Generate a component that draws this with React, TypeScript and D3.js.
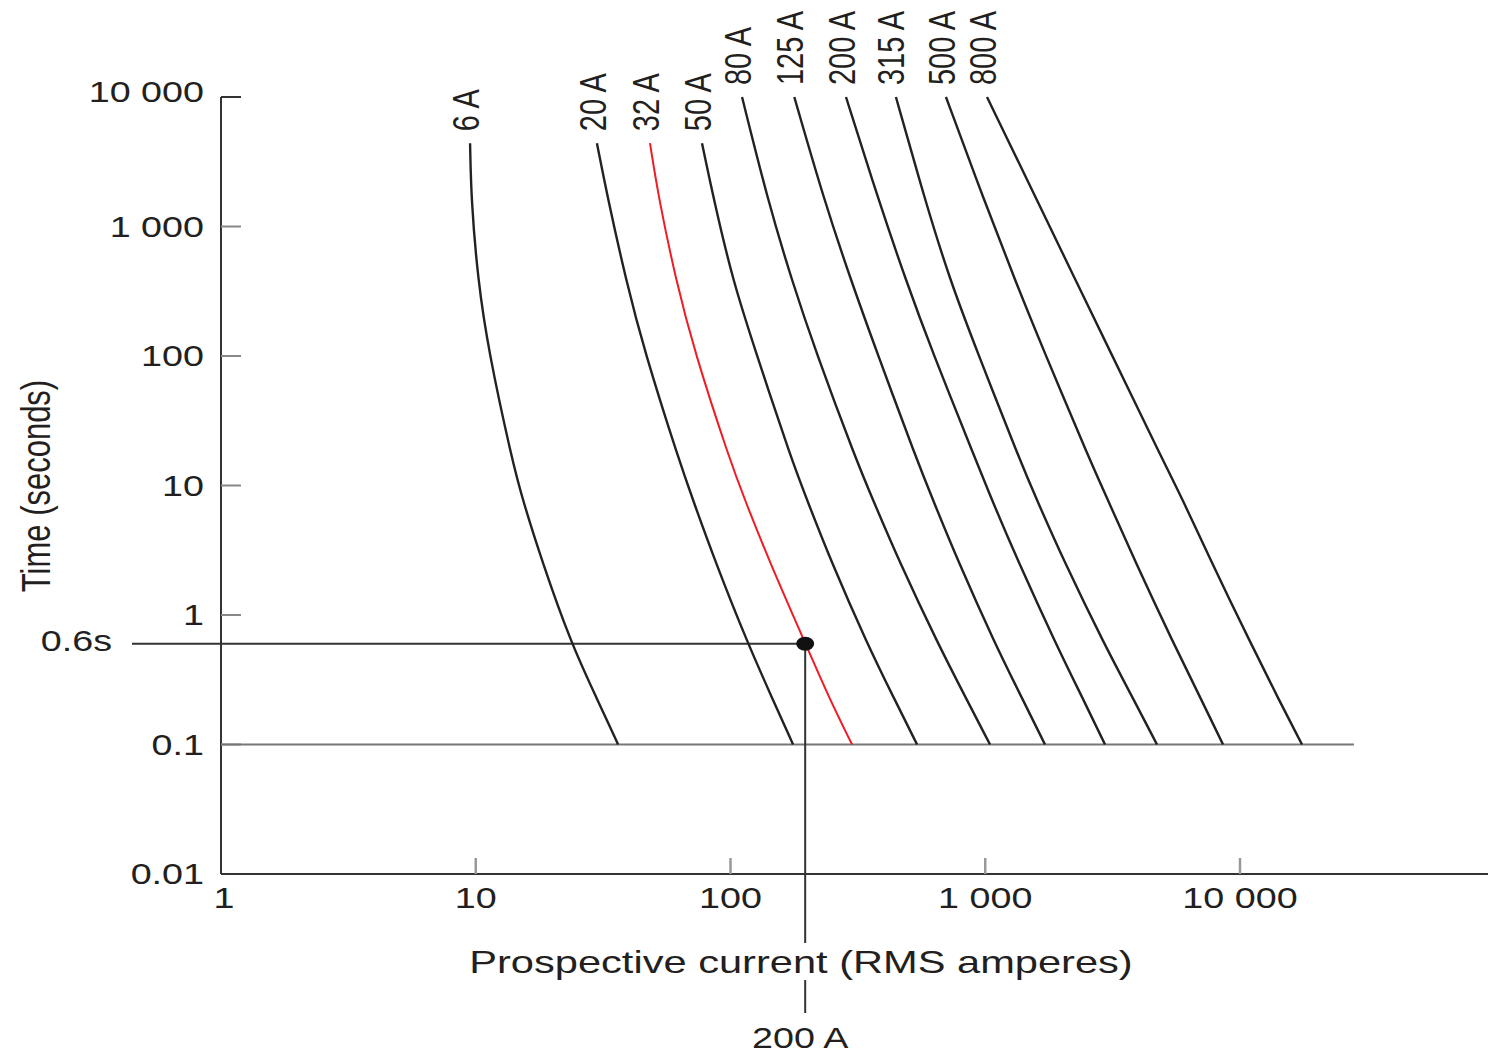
import * as d3 from "d3"

// fuse ratings (curve labels)
const fuseLabels = ["6 A", "20 A", "32 A", "50 A", "80 A", "125 A", "200 A", "315 A", "500 A", "800 A"]
const highlightedFuse = "32 A"

// first point of each curve (time in s, current in A)
const startTimes = [4400, 4400, 4400, 4400, 10000, 10000, 10000, 10000, 10000, 10000]
const startCurrents = [9.5, 29.9, 48.3, 77.3, 111, 178, 284, 446, 701, 1016]

// times at which the currents below were read
const pointTimes = [1600, 385, 111, 15.6, 7.7, 2.6, 0.6, 0.22, 0.1]
const currents6A = [9.6, 10.2, 11.2, 13.9, 15.3, 18.2, 23.7, 30.1, 36.2]
const currents20A = [33.1, 38.9, 45.8, 62.8, 71.3, 87, 117, 147, 176]
const currents32A = [52.4, 61.1, 71.9, 99.5, 114, 142, 197, 246, 300]
const currents50A = [86.1, 102, 125, 174, 200, 248, 344, 442, 540]
const currents80A = [140, 174, 215, 312, 363, 459, 652, 848, 1044]
const currents125A = [233, 297, 373, 540, 624, 782, 1092, 1407, 1716]
const currents200A = [381, 488, 616, 920, 1063, 1345, 1892, 2433, 2952]
const currents315A = [580, 727, 925, 1369, 1596, 2038, 2925, 3836, 4722]
const currents500A = [989, 1309, 1693, 2578, 3033, 3871, 5488, 7068, 8577]
const currents800A = [1596, 2262, 3077, 4985, 5974, 7694, 11045, 14228, 17516]
const fuseCurrents = [
    currents6A, currents20A, currents32A, currents50A, currents80A,
    currents125A, currents200A, currents315A, currents500A, currents800A,
]

// axes
const timeTicks = [0.01, 0.1, 1, 10, 100, 1000, 10000]
const timeTickLabels = ["0.01", "0.1", "1", "10", "100", "1 000", "10 000"]
const currentTicks = [1, 10, 100, 1000, 10000]
const currentTickLabels = ["1", "10", "100", "1 000", "10 000"]

// worked example
const faultCurrent = 200
const faultTime = 0.6
const baseTime = 0.1
const baseLineEnd = 28000

const W = 1488
const H = 1054
const FONT = "'Liberation Sans', Arial, Helvetica, sans-serif"
const INK = "#231f20"
const STRETCH = 1.3

function Label({ x, y, anchor = "middle", size = 29, rotate = false, dy = "0", children }) {
    const t = `translate(${x},${y}) scale(${STRETCH},1)${rotate ? " rotate(-90)" : ""}`
    return (
        <text transform={t} textAnchor={anchor} dy={dy} fontSize={size} fontFamily={FONT} fill={INK}>
            {children}
        </text>
    )
}

export default function App() {
    const x = d3.scaleLog().domain([1, 10000]).range([221, 1240])
    const y = d3.scaleLog().domain([0.01, 10000]).range([874, 97])

    const line = d3.line<[number, number]>()
        .x(d => x(d[0]))
        .y(d => y(d[1]))
        .curve(d3.curveBasis)

    const curves = fuseLabels.map((label, i) => {
        const pts: [number, number][] = [[startCurrents[i], startTimes[i]]]
        pointTimes.forEach((t, j) => pts.push([fuseCurrents[i][j], t]))
        return { label, pts, start: pts[0] }
    })

    const x0 = x(1)
    const y0 = y(0.01)
    const fx = x(faultCurrent) - 2
    const fy = y(faultTime)

    return (
        <svg width={W} height={H} style={{ position: "absolute", left: 0, top: 0, background: "#fff" }}>
            {/* axes */}
            <line x1={x0} x2={x0} y1={y(10000)} y2={y0} stroke="#333" strokeWidth={2} />
            <line x1={x0} x2={W} y1={y0} y2={y0} stroke="#333" strokeWidth={2} />

            {timeTicks.map((t, i) => (
                <g key={"yt" + t}>
                    {t > 0.01 && (
                        <line x1={x0} x2={x0 + 20} y1={y(t)} y2={y(t)}
                            stroke={t === 10000 ? "#333" : "#888"} strokeWidth={2} />
                    )}
                    <Label x={204} y={y(t) - (t === 10000 ? 5 : 0)} anchor="end" dy="0.36em">{timeTickLabels[i]}</Label>
                </g>
            ))}

            {currentTicks.map((c, i) => (
                <g key={"xt" + c}>
                    {c > 1 && <line x1={x(c)} x2={x(c)} y1={y0} y2={y0 - 16} stroke="#999" strokeWidth={2.5} />}
                    <Label x={x(c) + (c === 1 ? 3 : 0)} y={908}>{currentTickLabels[i]}</Label>
                </g>
            ))}

            {/* 0.1 s base line */}
            <line x1={x0} x2={x(baseLineEnd)} y1={y(baseTime)} y2={y(baseTime)} stroke="#777" strokeWidth={2} />

            {/* worked example lines */}
            <line x1={x0 - 89} x2={fx} y1={fy} y2={fy} stroke="#333" strokeWidth={2} />
            <line x1={fx} x2={fx} y1={fy} y2={943} stroke="#333" strokeWidth={2} />
            <line x1={fx} x2={fx} y1={980} y2={1013} stroke="#333" strokeWidth={2} />

            {/* fuse curves */}
            {curves.map(c => (
                <g key={c.label}>
                    <path d={line(c.pts) ?? ""} fill="none"
                        stroke={c.label === highlightedFuse ? "#ee1c25" : "#222"}
                        strokeWidth={c.label === highlightedFuse ? 2 : 2.4} />
                    <Label x={x(c.start[0]) - 5} y={y(c.start[1]) - 12} anchor="start" rotate dy="0.36em">
                        {c.label}
                    </Label>
                </g>
            ))}

            <ellipse cx={fx} cy={fy} rx={9} ry={7} fill="#111" />

            {/* titles and annotations */}
            <Label x={35} y={486} anchor="middle" size={31} rotate dy="0.36em">Time (seconds)</Label>
            <Label x={801} y={973} size={32}>Prospective current (RMS amperes)</Label>
            <Label x={112} y={651} anchor="end">0.6s</Label>
            <Label x={fx - 5} y={1048}>200 A</Label>
        </svg>
    )
}
